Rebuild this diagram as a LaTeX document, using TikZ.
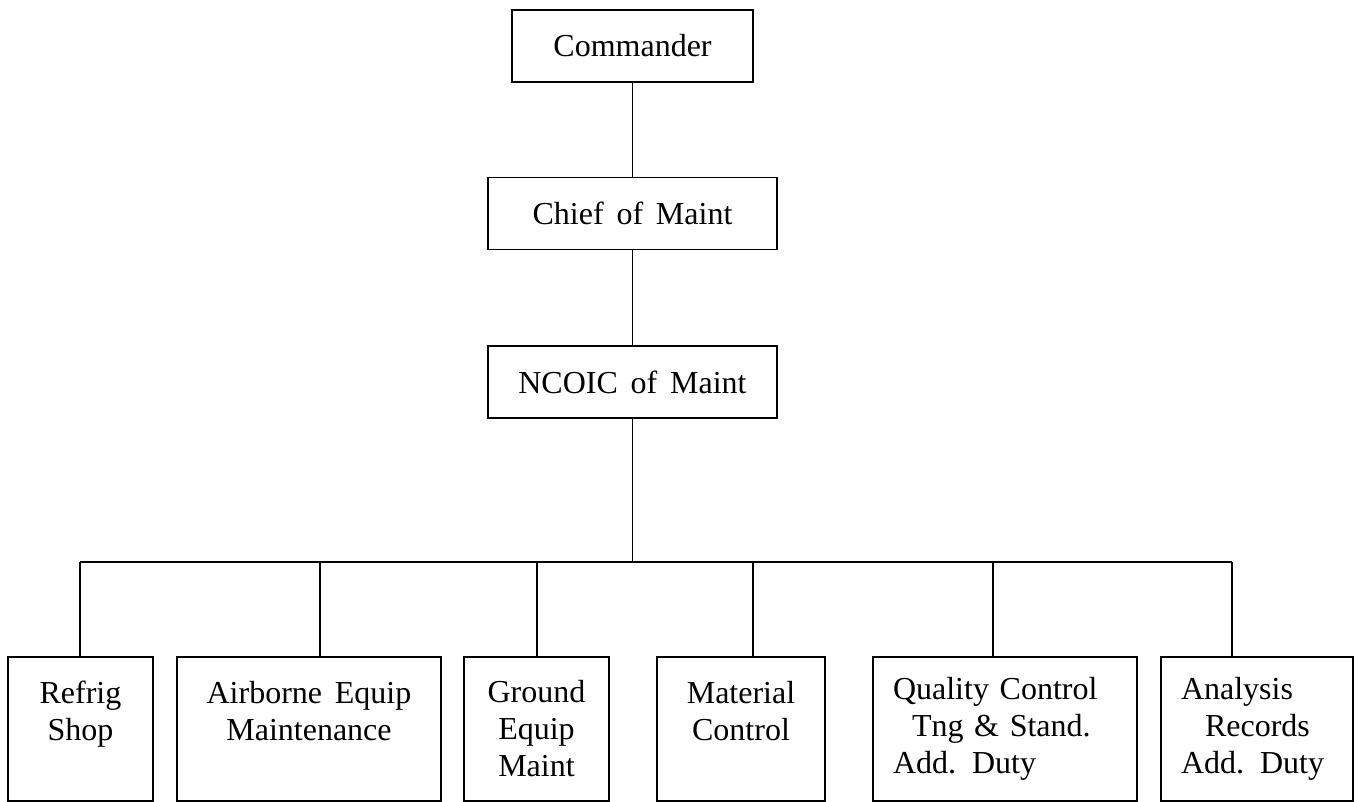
\documentclass[tikz,border=0pt]{standalone}
\usepackage{fontspec}
\setmainfont[WordSpace=1.6]{Liberation Serif}
\usepackage{tikz}

\begin{document}
\begin{tikzpicture}[x=0.5pt,y=0.5pt,yscale=-1,xscale=1,
  unit/.style={draw, line width=0.8pt, inner sep=0pt, align=center, font=\fontsize{16}{18.5}\selectfont},
  shop/.style={unit, minimum height=72pt},
  link/.style={line width=0.8pt}]
%set diagram left start at 0, and has height of 802
\useasboundingbox (0,0) rectangle (1356,802);

% Chain of command
\node [unit, minimum width=120.5pt, minimum height=36pt] (cmdr) at (632.5,46) {Commander};
\node [unit, minimum width=144.5pt, minimum height=36pt] (chief) at (632.5,213.5) {Chief of Maint};
\node [unit, minimum width=144.5pt, minimum height=36pt] (ncoic) at (632.5,382) {NCOIC of Maint};

% Shops
\node [shop, minimum width=72.5pt] (refrig) at (80.5,729) {Refrig\\Shop\\\mbox{}};
\node [shop, minimum width=132pt] (airborne) at (309,729) {Airborne Equip\\Maintenance\\\mbox{}};
\node [shop, minimum width=72.5pt] (ground) at (536.5,729) {Ground\\Equip\\Maint};
\node [shop, minimum width=84pt] (material) at (741,729) {Material\\Control\\\mbox{}};
\node [shop, minimum width=132pt, text width=112pt, align=left] (quality) at (1005,729) {Quality Control\\\hspace{9.5pt}Tng \& Stand.\\Add. Duty};
\node [shop, minimum width=96pt, text width=76pt, align=left] (analysis) at (1257,729) {Analysis\\\hspace{12pt}Records\\Add. Duty};

% Bus
\coordinate (bus) at (632.5,562);
\coordinate (b1) at (80,562);
\coordinate (b2) at (320,562);
\coordinate (b3) at (537,562);
\coordinate (b4) at (753,562);
\coordinate (b5) at (993,562);
\coordinate (b6) at (1232,562);

% Lines
\draw [link] (cmdr) -- (chief);
\draw [link] (chief) -- (ncoic);
\draw [link] (ncoic) -- (bus);
\draw [link] (b1) -- (b6);
\foreach \i/\n in {1/refrig,2/airborne,3/ground,4/material,5/quality,6/analysis}
  \draw [link] (b\i) -- (b\i |- \n.north);

\end{tikzpicture}
\end{document}
